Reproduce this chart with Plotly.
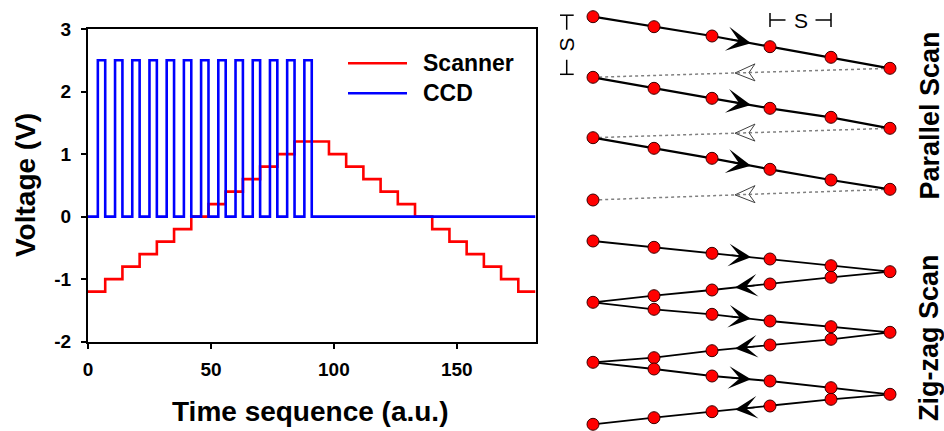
import plotly.graph_objects as go
import numpy as np

W, H = 944, 431
FONT = "Arial, Liberation Sans, sans-serif"

# ---------------- left chart data ----------------
scanner_time = [0, 7, 14, 21, 28, 35, 42, 49, 56, 63, 70, 77, 84, 98, 105, 112,
                119, 126, 133, 140, 147, 154, 161, 168, 175, 182]
scanner_volt = [-1.2, -1.0, -0.8, -0.6, -0.4, -0.2, 0.0, 0.2, 0.4, 0.6, 0.8, 1.0,
                1.2, 1.0, 0.8, 0.6, 0.4, 0.2, 0.0, -0.2, -0.4, -0.6, -0.8, -1.0,
                -1.2, -1.2]
ccd_time = [0, 4, 7, 11, 14, 18, 21, 25, 28, 32, 35, 39, 42, 46, 49, 53, 56, 60,
            63, 67, 70, 74, 77, 81, 84, 88, 91, 182]
ccd_volt = [0, 2.5, 0, 2.5, 0, 2.5, 0, 2.5, 0, 2.5, 0, 2.5, 0, 2.5, 0, 2.5, 0,
            2.5, 0, 2.5, 0, 2.5, 0, 2.5, 0, 2.5, 0, 0]
series_names = ["Scanner", "CCD"]
series_colors = ["#ff0000", "#0000ff"]
x_tick_vals = [0, 50, 100, 150]
x_tick_text = ["0", "50", "100", "150"]
y_tick_vals = [-2, -1, 0, 1, 2, 3]
y_tick_text = ["-2", "-1", "0", "1", "2", "3"]

# ---------------- right diagram data (diagram units) ----------------
col_x = [593, 654, 712, 770, 831, 890]
par_rows_y = [
    [16.7, 26.7, 36.0, 46.7, 57.3, 68.3],
    [77.3, 88.3, 98.3, 108.3, 117.3, 128.3],
    [137.7, 148.3, 158.3, 169.3, 180.0, 189.3],
]
par_last_y = 200.0
zz_x = [593, 654, 712, 770, 831, 890,
        831, 770, 712, 654, 593,
        654, 712, 770, 831, 890,
        831, 770, 712, 654, 593,
        654, 712, 770, 831, 890,
        831, 770, 712, 654, 593]
zz_y = [241.0, 247.3, 253.3, 259.0, 265.7, 271.7,
        277.3, 284.0, 290.0, 295.7, 302.3,
        309.3, 314.3, 321.0, 326.7, 332.3,
        339.3, 345.0, 350.7, 357.7, 362.3,
        369.0, 376.0, 381.0, 387.7, 394.3,
        399.3, 406.0, 411.7, 417.7, 424.3]


def px(x):
    return x / W


def py(y):
    return 1 - y / H


fig = go.Figure()

# left chart traces
fig.add_trace(go.Scatter(x=scanner_time, y=scanner_volt, mode="lines", line_shape="hv",
                         name=series_names[0], line=dict(color=series_colors[0], width=2.6),
                         xaxis="x", yaxis="y", showlegend=False))
fig.add_trace(go.Scatter(x=ccd_time, y=ccd_volt, mode="lines", line_shape="hv",
                         name=series_names[1], line=dict(color=series_colors[1], width=2.6),
                         xaxis="x", yaxis="y", showlegend=False))

# ---- right diagram: parallel scan ----
ret_x, ret_y = [], []
next_starts = [par_rows_y[1][0], par_rows_y[2][0], par_last_y]
for row, ys in zip(par_rows_y, next_starts):
    ret_x += [col_x[-1], col_x[0], None]
    ret_y += [row[-1], ys, None]
fig.add_trace(go.Scatter(x=ret_x, y=ret_y, mode="lines", xaxis="x2", yaxis="y2",
                         line=dict(color="#808080", width=1.5, dash="dot"),
                         showlegend=False, hoverinfo="skip"))
sx, sy = [], []
for row in par_rows_y:
    sx += col_x + [None]
    sy += row + [None]
fig.add_trace(go.Scatter(x=sx, y=sy, mode="lines", xaxis="x2", yaxis="y2",
                         line=dict(color="black", width=2.2), showlegend=False))
mx = [x for x in sx if x is not None] + [col_x[0]]
my = [y for y in sy if y is not None] + [par_last_y]
marker_style = dict(color="#ff0000", size=12, line=dict(color="#3a0000", width=1))
fig.add_trace(go.Scatter(x=mx, y=my, mode="markers", xaxis="x2", yaxis="y2",
                         marker=marker_style, showlegend=False, cliponaxis=False))

# ---- right diagram: zig-zag scan ----
fig.add_trace(go.Scatter(x=zz_x, y=zz_y, mode="lines+markers", xaxis="x2", yaxis="y2",
                         line=dict(color="black", width=1.8), marker=marker_style,
                         showlegend=False, cliponaxis=False))

annotations = []
shapes = []


def line_y(xs, ys, xq):
    order = np.argsort(xs)
    return float(np.interp(xq, np.asarray(xs, float)[order], np.asarray(ys, float)[order]))


def arrow(xs, ys, tip_x, tail_x, head, size, width, color):
    annotations.append(dict(x=tip_x, y=line_y(xs, ys, tip_x), ax=tail_x,
                            ay=line_y(xs, ys, tail_x), xref="x2", yref="y2",
                            axref="x2", ayref="y2", text="", showarrow=True,
                            arrowhead=head, arrowsize=size, arrowwidth=width,
                            arrowcolor=color, standoff=0))


def open_arrow_left(xs, ys, tip_x, length=20, half=8.5, notch=6):
    ty = line_y(xs, ys, tip_x)
    by = line_y(xs, ys, tip_x + length)
    nx = tip_x + length - notch
    ny = line_y(xs, ys, nx)
    path = (f"M {tip_x},{ty} L {tip_x + length},{by - half} L {nx},{ny} "
            f"L {tip_x + length},{by + half} Z")
    shapes.append(dict(type="path", xref="x2", yref="y2", path=path,
                       line=dict(color="#404040", width=1), fillcolor="rgba(0,0,0,0)"))


for row in par_rows_y:
    arrow(col_x, row, 751, 730, 3, 2.7, 1.5, "black")
for row, ys in zip(par_rows_y, next_starts):
    open_arrow_left([col_x[0], col_x[-1]], [ys, row[-1]], 735)
for k in range(3):
    fwd = slice(10 * k, 10 * k + 6)
    arrow(zz_x[fwd], zz_y[fwd], 751, 730, 3, 2.5, 1.5, "black")
    bwd = slice(10 * k + 5, 10 * k + 11)
    arrow(zz_x[bwd], zz_y[bwd], 735, 756, 3, 2.5, 1.5, "black")

# scale bars "S"
bar_y = 20.0
bx0, bx1 = col_x[3], col_x[4]
bmid = (bx0 + bx1) / 2
line_k = dict(color="black", width=1.5)
for seg in [(bx0, bar_y, bmid - 15, bar_y), (bmid + 15, bar_y, bx1, bar_y),
            (bx0, bar_y - 7, bx0, bar_y + 7), (bx1, bar_y - 7, bx1, bar_y + 7)]:
    shapes.append(dict(type="line", xref="x2", yref="y2", x0=seg[0], y0=seg[1],
                       x1=seg[2], y1=seg[3], line=line_k))
annotations.append(dict(x=bmid, y=bar_y, xref="x2", yref="y2", text="S", showarrow=False,
                        xanchor="center", yanchor="middle",
                        font=dict(family=FONT, size=21, color="black")))
vbx = 566.7
vy0, vy1 = par_rows_y[0][0] - 1.5, par_rows_y[1][0] - 3
vmid = (vy0 + vy1) / 2
for seg in [(vbx, vy0, vbx, vmid - 15), (vbx, vmid + 15, vbx, vy1),
            (vbx - 7, vy0, vbx + 7, vy0), (vbx - 7, vy1, vbx + 7, vy1)]:
    shapes.append(dict(type="line", xref="x2", yref="y2", x0=seg[0], y0=seg[1],
                       x1=seg[2], y1=seg[3], line=line_k))
annotations.append(dict(x=vbx, y=vmid, xref="x2", yref="y2", text="S", showarrow=False,
                        textangle=-90, xanchor="center", yanchor="middle",
                        font=dict(family=FONT, size=21, color="black")))

# side labels
annotations.append(dict(x=929, y=115.5, xref="x2", yref="y2", text="Parallel Scan",
                        showarrow=False, textangle=-90, xanchor="center", yanchor="middle",
                        font=dict(family=FONT, size=27, color="black", weight="bold")))
annotations.append(dict(x=929, y=338, xref="x2", yref="y2", text="Zig-zag Scan",
                        showarrow=False, textangle=-90, xanchor="center", yanchor="middle",
                        font=dict(family=FONT, size=27, color="black", weight="bold")))

# axis titles
annotations.append(dict(x=px(310), y=py(411), xref="paper", yref="paper",
                        text="Time sequence (a.u.)", showarrow=False,
                        xanchor="center", yanchor="middle",
                        font=dict(family=FONT, size=28, color="black", weight="bold")))
annotations.append(dict(x=px(25), y=py(185), xref="paper", yref="paper",
                        text="Voltage (V)", showarrow=False, textangle=-90,
                        xanchor="center", yanchor="middle",
                        font=dict(family=FONT, size=28, color="black", weight="bold")))

# manual legend
for i, (nm, col) in enumerate(zip(series_names, series_colors)):
    yy = 63.3 + 30 * i
    shapes.append(dict(type="line", xref="paper", yref="paper", x0=px(348), x1=px(407),
                       y0=py(yy), y1=py(yy), line=dict(color=col, width=2.6)))
    annotations.append(dict(x=px(421), y=py(yy), xref="paper", yref="paper", text=nm,
                            showarrow=False, xanchor="left", yanchor="middle",
                            font=dict(family=FONT, size=23, color="black", weight="bold")))

axis_common = dict(showline=True, linecolor="black", linewidth=2.2, mirror=True,
                   ticks="outside", ticklen=5, tickwidth=1.5, tickcolor="black",
                   showgrid=False, zeroline=False,
                   tickfont=dict(family=FONT, size=19, color="black", weight="bold"))

fig.update_layout(
    width=W, height=H, margin=dict(l=0, r=0, t=0, b=0),
    paper_bgcolor="white", plot_bgcolor="white", showlegend=False,
    xaxis=dict(domain=[px(88), px(535.5)], range=[0, 182], tickmode="array",
               tickvals=x_tick_vals, ticktext=x_tick_text, anchor="y",
               automargin=False, ticklabelstandoff=4, **axis_common),
    yaxis=dict(domain=[py(341.7), py(29)], range=[-2, 3], tickmode="array",
               tickvals=y_tick_vals, ticktext=y_tick_text, anchor="x",
               automargin=False, ticklabelstandoff=6, **axis_common),
    xaxis2=dict(domain=[px(560), 1.0], range=[560, 944], visible=False, anchor="y2"),
    yaxis2=dict(domain=[0.0, 1.0], range=[431, 0], visible=False, anchor="x2"),
    annotations=annotations, shapes=shapes,
)

fig.write_html("out.html", config={"displayModeBar": False},
               post_script="document.body.style.margin='0px';"
                           "document.body.style.overflow='hidden';")
